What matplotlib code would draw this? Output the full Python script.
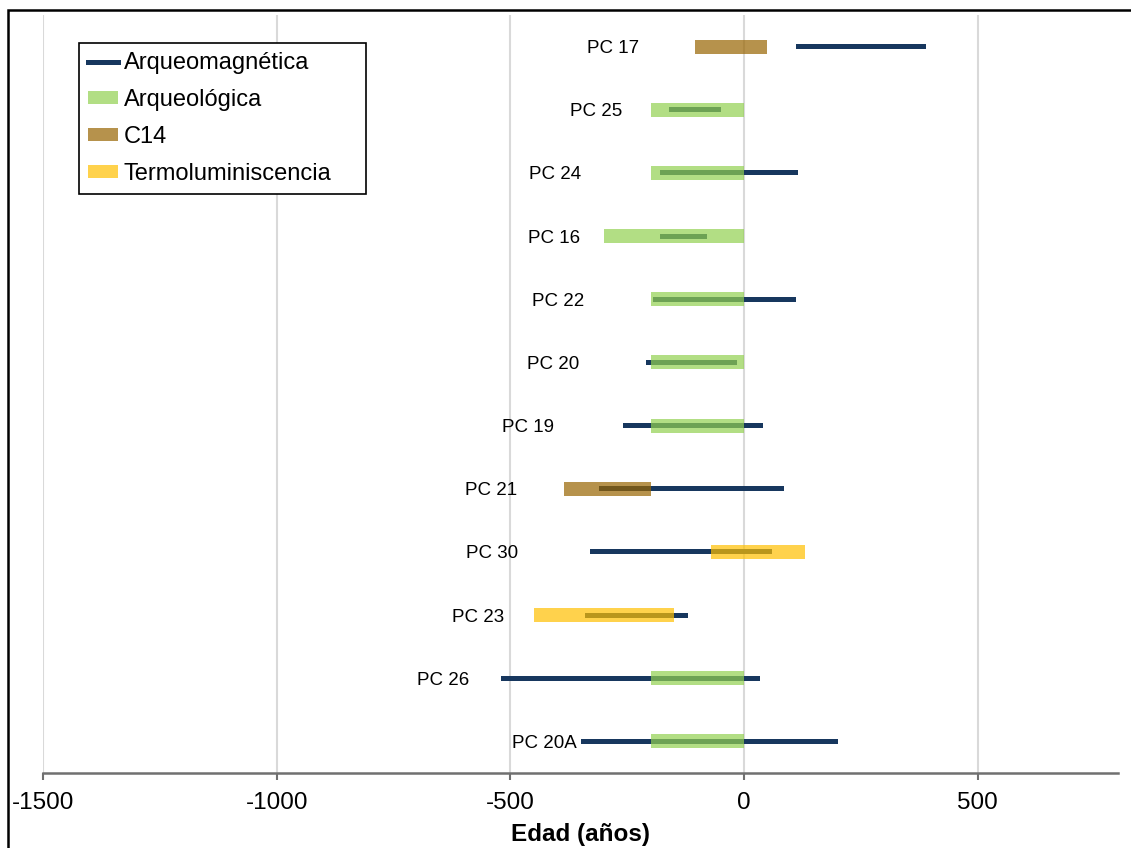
import matplotlib
matplotlib.use("Agg")
import matplotlib.pyplot as plt
import matplotlib.patches as mpatches
from matplotlib.lines import Line2D

plt.rcParams['font.family'] = ['Liberation Sans', 'DejaVu Sans']
plt.rcParams['axes.unicode_minus'] = False

# muestras (de arriba a abajo)
muestras = ['PC 17', 'PC 25', 'PC 24', 'PC 16', 'PC 22', 'PC 20',
            'PC 19', 'PC 21', 'PC 30', 'PC 23', 'PC 26', 'PC 20A']

# intervalos de edad (años)
arqmag_ini = [110, -160, -180, -180, -195, -210, -260, -310, -330, -340, -520, -350]
arqmag_fin = [390, -50, 115, -80, 110, -15, 40, 85, 60, -120, 35, 200]

arqlog_muestras = ['PC 25', 'PC 24', 'PC 16', 'PC 22', 'PC 20', 'PC 19', 'PC 26', 'PC 20A']
arqlog_ini = [-200, -200, -300, -200, -200, -200, -200, -200]
arqlog_fin = [0, 0, 0, 0, 0, 0, 0, 0]

c14_muestras = ['PC 17', 'PC 21']
c14_ini = [-105, -385]
c14_fin = [50, -200]

tl_muestras = ['PC 30', 'PC 23']
tl_ini = [-70, -450]
tl_fin = [130, -150]

# posicion (borde derecho) de las etiquetas
etiqueta_x = [-224, -261, -348, -350, -342, -353, -406, -485, -483, -513, -588, -359]

c_mag = '#17375E'
c_arq = '#92D050'
c_c14 = '#986400'
c_tl = '#FFC000'
alfa = 0.7

fig = plt.figure(figsize=(11.31, 8.48), dpi=100)
ax = fig.add_axes([43/1131, 1-773/848, (1118-43)/1131, (773-15)/848])

pos = {m: i for i, m in enumerate(muestras)}

def barras(lista, ini, fin, color, h, a, z):
    y = [pos[m] for m in lista]
    w = [f - i for i, f in zip(ini, fin)]
    ax.barh(y, w, left=ini, height=h, color=color, alpha=a, zorder=z, linewidth=0)

barras(muestras, arqmag_ini, arqmag_fin, c_mag, 0.08, 1, 2)
barras(arqlog_muestras, arqlog_ini, arqlog_fin, c_arq, 0.22, alfa, 3)
barras(c14_muestras, c14_ini, c14_fin, c_c14, 0.22, alfa, 3)
barras(tl_muestras, tl_ini, tl_fin, c_tl, 0.22, alfa, 3)

for i, m in enumerate(muestras):
    ax.text(etiqueta_x[i], i, m, ha='right', va='center_baseline', fontsize=13.5, color='black')

ax.set_xlim(-1500, 800)
ax.set_ylim(len(muestras) - 0.5, -0.5)
ax.set_xticks([-1500, -1000, -500, 0, 500])
ax.set_yticks([])
ax.grid(axis='x', color='#D9D9D9', linewidth=1.5)
ax.set_axisbelow(True)
for s in ['top', 'left', 'right']:
    ax.spines[s].set_visible(False)
ax.spines['bottom'].set_color('#707070')
ax.spines['bottom'].set_linewidth(1.8)
ax.tick_params(axis='x', direction='out', length=5, width=1.5, color='#707070',
               labelsize=17.5, pad=8.5)
ax.set_xlabel('Edad (años)', fontsize=17.5, fontweight='bold', labelpad=7)

handles = [
    Line2D([0], [0], color=c_mag, linewidth=3.6),
    mpatches.Patch(facecolor=c_arq, alpha=alfa, linewidth=0),
    mpatches.Patch(facecolor=c_c14, alpha=alfa, linewidth=0),
    mpatches.Patch(facecolor=c_tl, alpha=alfa, linewidth=0),
]
etiquetas = ['Arqueomagnética', 'Arqueológica', 'C14', 'Termoluminiscencia']
leg = ax.legend(handles, etiquetas, loc='upper left', mode='expand',
                bbox_to_anchor=(79/1131, 1-193/848, (366-79)/1131, 150/848),
                bbox_transform=fig.transFigure,
                borderaxespad=0, fontsize=17, fancybox=False, framealpha=1,
                edgecolor='black', handlelength=1.27, handleheight=0.47,
                handletextpad=0.25, borderpad=0.38, labelspacing=0.63)
leg.get_frame().set_linewidth(1.2)

# marco de la figura
marco = mpatches.Rectangle((8/1131, -0.1), 1.2, 1.1 - 10/848, transform=fig.transFigure,
                           fill=False, edgecolor='black', linewidth=1.8, clip_on=False)
fig.patches.append(marco)

fig.savefig('out.png', dpi=100)
